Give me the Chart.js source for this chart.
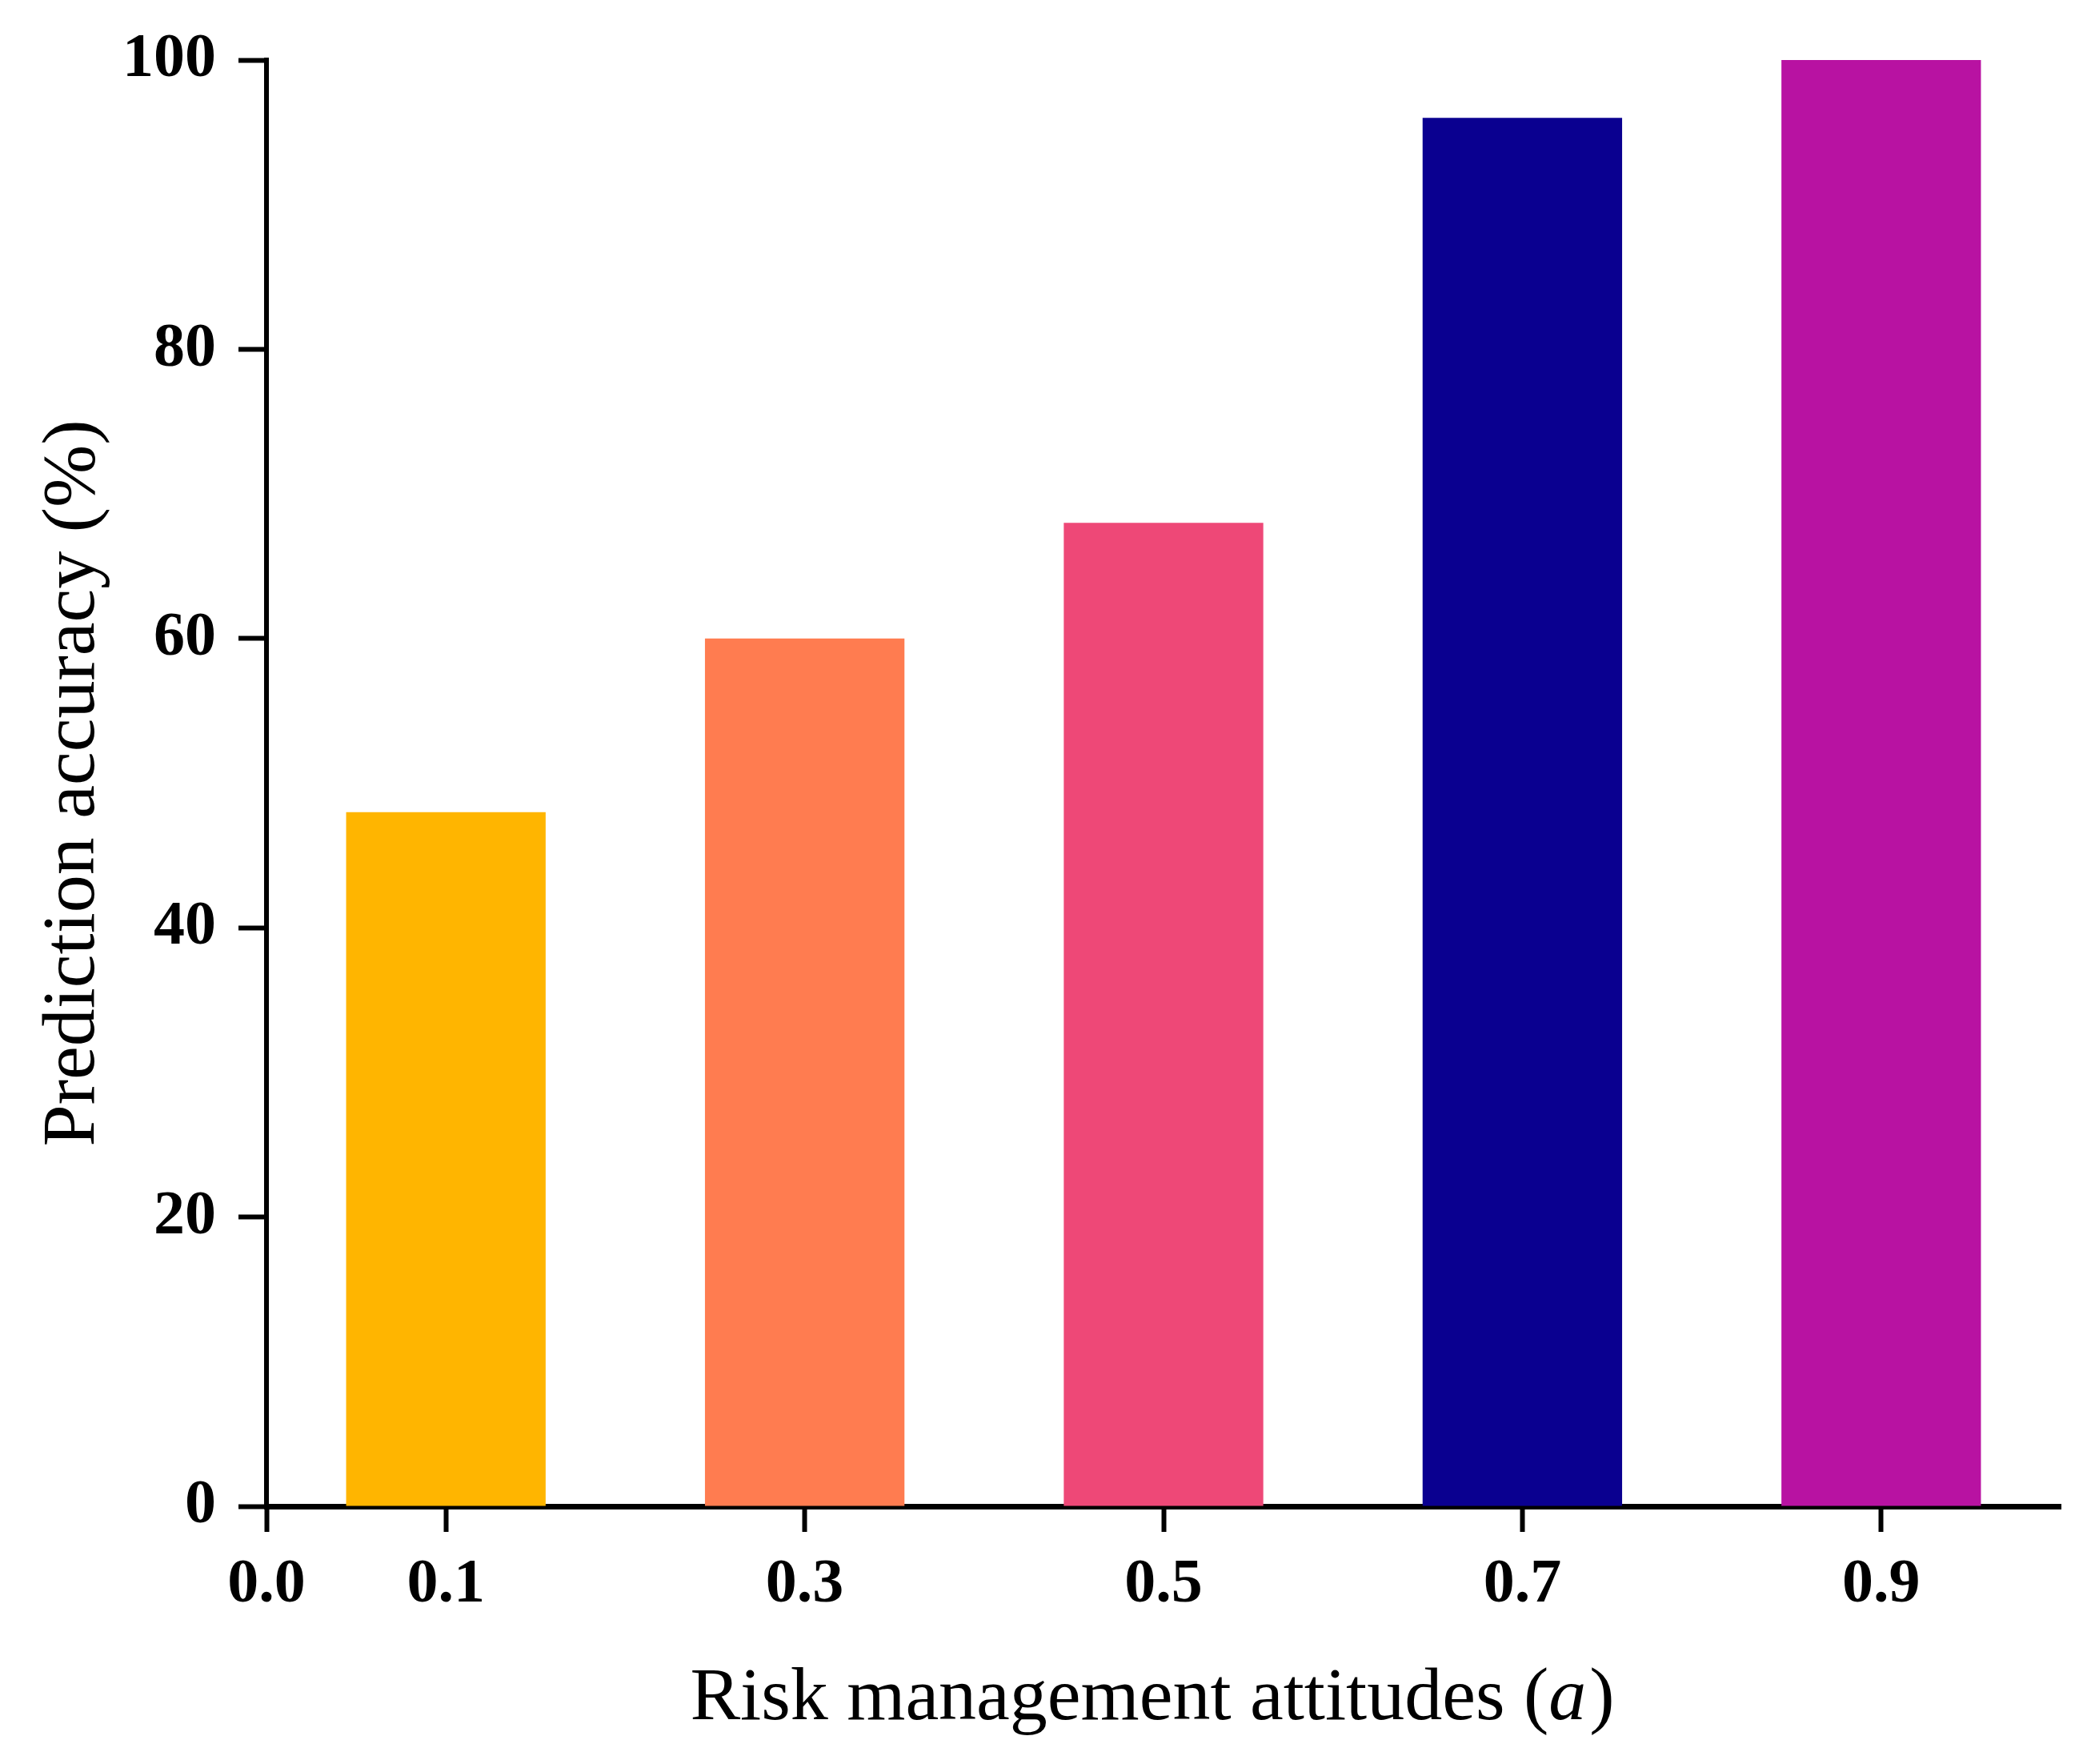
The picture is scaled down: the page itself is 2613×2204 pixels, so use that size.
<!DOCTYPE html>
<html>
<head>
<meta charset="utf-8">
<script src="https://cdn.jsdelivr.net/npm/chart.js@4/dist/chart.umd.min.js"></script>
<style>
  body { margin: 0; background: #ffffff; }
  canvas { display: block; }
</style>
</head>
<body>
<canvas id="myChart" width="2613" height="2204"></canvas>
<script>
// data
var attitudes = [0.1, 0.3, 0.5, 0.7, 0.9];
var accuracy = [48, 60, 68, 96, 100];
var barColors = ['#FFB500', '#FF7C50', '#EE4877', '#0A0090', '#B812A2'];
var xTickValues = [0.0, 0.1, 0.3, 0.5, 0.7, 0.9];
var yTickValues = [0, 20, 40, 60, 80, 100];

var serif = "'Times New Roman', 'Liberation Serif', serif";

// x title has an italic a, so draw it by hand
var xTitlePlugin = {
    id: 'xTitle',
    afterDraw: function (chart) {
        var ctx = chart.ctx;
        var area = chart.chartArea;
        var part1 = 'Risk management attitudes (';
        var part2 = 'a';
        var part3 = ')';
        ctx.save();
        ctx.fillStyle = '#000';
        ctx.textBaseline = 'alphabetic';
        ctx.font = '94px ' + serif;
        var w1 = ctx.measureText(part1).width;
        var w3 = ctx.measureText(part3).width;
        ctx.font = 'italic 94px ' + serif;
        var w2 = ctx.measureText(part2).width;
        var total = w1 + w2 + w3 + 4;
        var x = (area.left + area.right) / 2 - 14 - total / 2;
        var y = 2148;
        ctx.font = '94px ' + serif;
        ctx.fillText(part1, x, y);
        ctx.font = 'italic 94px ' + serif;
        ctx.fillText(part2, x + w1, y);
        ctx.font = '94px ' + serif;
        ctx.fillText(part3, x + w1 + w2 + 4, y);
        ctx.restore();
    }
};

window.onload = function () {

    var ctx = document.getElementById('myChart').getContext('2d');

    var points = attitudes.map(function (a, i) {
        return { x: a, y: accuracy[i] };
    });

    var chart = new Chart(ctx, {
        type: 'bar',
        data: {
            datasets: [{
                data: points,
                backgroundColor: barColors,
                borderWidth: 0,
                categoryPercentage: 1,
                // the 0.0 -> 0.1 tick gap is the smallest spacing the bars see
                barPercentage: 1.112
            }]
        },
        options: {
            responsive: false,
            devicePixelRatio: 1,
            animation: false,
            layout: {
                padding: { top: 75, right: 38, bottom: 0, left: 0 }
            },
            plugins: {
                legend: { display: false },
                tooltip: { enabled: false }
            },
            scales: {
                x: {
                    type: 'linear',
                    min: 0,
                    max: 1.0,
                    offset: false,
                    z: 1,
                    afterBuildTicks: function (scale) {
                        scale.ticks = xTickValues.map(function (v) { return { value: v }; });
                    },
                    afterFit: function (scale) {
                        scale.height = 322;
                    },
                    grid: {
                        offset: false,
                        drawOnChartArea: false,
                        drawTicks: true,
                        tickLength: 32,
                        tickWidth: 6,
                        tickColor: '#000'
                    },
                    border: { display: true, color: '#000', width: 7 },
                    ticks: {
                        color: '#000',
                        padding: 20,
                        maxRotation: 0,
                        autoSkip: false,
                        font: { family: serif, size: 78, weight: 'bold' },
                        callback: function (value) { return Number(value).toFixed(1); }
                    }
                },
                y: {
                    min: 0,
                    max: 100,
                    z: 1,
                    afterBuildTicks: function (scale) {
                        scale.ticks = yTickValues.map(function (v) { return { value: v }; });
                    },
                    afterFit: function (scale) {
                        scale.width = 333;
                    },
                    grid: {
                        drawOnChartArea: false,
                        drawTicks: true,
                        tickLength: 35,
                        tickWidth: 6,
                        tickColor: '#000'
                    },
                    border: { display: true, color: '#000', width: 6 },
                    ticks: {
                        color: '#000',
                        padding: 28,
                        font: { family: serif, size: 78, weight: 'bold' }
                    },
                    title: {
                        display: true,
                        text: 'Prediction accuracy (%)',
                        color: '#000',
                        padding: { top: 36, bottom: 0 },
                        font: { family: serif, size: 94, weight: 'normal' }
                    }
                }
            }
        },
        plugins: [xTitlePlugin]
    });

};
</script>
</body>
</html>
